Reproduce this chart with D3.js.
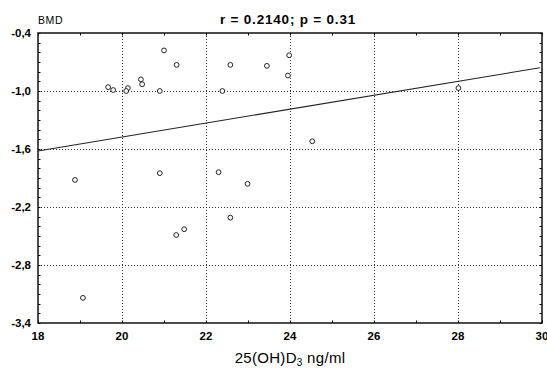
<!DOCTYPE html>
<html>
<head>
<meta charset="utf-8">
<script src="https://cdn.jsdelivr.net/npm/d3@7"></script>
<style>
  body { margin: 0; background: #fff; }
  text { font-family: "Liberation Sans", Arial, sans-serif; fill: #000; }
</style>
</head>
<body>
<svg width="547" height="368"></svg>
<script>
// 25(OH)D3 values and BMD
const vitD = [21.0, 21.3, 20.45, 20.48, 19.67, 19.79, 20.14, 20.1, 20.9, 22.39,
              22.58, 23.45, 23.98, 23.95, 28.01, 24.53, 18.88, 20.9, 22.3, 22.99,
              22.58, 21.48, 21.29, 19.07];
const bmd = [-0.58, -0.73, -0.88, -0.93, -0.96, -0.99, -0.97, -1.0, -1.0, -1.0,
             -0.73, -0.74, -0.63, -0.84, -0.97, -1.52, -1.92, -1.85, -1.84, -1.96,
             -2.31, -2.43, -2.49, -3.14];

// fitted line, as seen on the chart
const fitIntercept = -2.916;   // BMD at x = 0
const fitSlope = 0.072;

const xTicks = [18, 20, 22, 24, 26, 28, 30];
const yTicks = [-0.4, -1.0, -1.6, -2.2, -2.8, -3.4];

const title = "r = 0.2140; p = 0.31";

const svg = d3.select('svg');
const pLeft = 38, pRight = 542, pTop = 33, pBottom = 323;

const xScale = d3.scaleLinear().domain([18, 30]).range([pLeft, pRight]);
const yScale = d3.scaleLinear().domain([-3.4, -0.4]).range([pBottom, pTop]);

const fmtY = d => d3.format('.1f')(d).replace('.', ',').replace('−', '-');

// grid
const grid = svg.append('g')
  .attr('stroke', '#333')
  .attr('stroke-width', 1)
  .attr('stroke-dasharray', '1,2');

grid.selectAll('.gx')
  .data(xTicks.slice(1, -1))
  .enter().append('line')
    .attr('x1', d => Math.round(xScale(d)) + 0.5)
    .attr('x2', d => Math.round(xScale(d)) + 0.5)
    .attr('y1', pTop)
    .attr('y2', pBottom);

grid.selectAll('.gy')
  .data(yTicks.slice(1, -1))
  .enter().append('line')
    .attr('y1', d => Math.round(yScale(d)) + 0.5)
    .attr('y2', d => Math.round(yScale(d)) + 0.5)
    .attr('x1', pLeft)
    .attr('x2', pRight);

// minor ticks, inside on all four sides
const minorX = d3.range(18, 30.01, 1);
const minorY = d3.range(-3.4, -0.39, 0.1);
const ticks = svg.append('g').attr('stroke', '#000').attr('stroke-width', 1);

minorX.forEach(v => {
  const x = Math.round(xScale(v)) + 0.5;
  ticks.append('line').attr('x1', x).attr('x2', x).attr('y1', pBottom).attr('y2', pBottom - 2.5);
  ticks.append('line').attr('x1', x).attr('x2', x).attr('y1', pTop).attr('y2', pTop + 2.5);
});
minorY.forEach(v => {
  const y = Math.round(yScale(v)) + 0.5;
  ticks.append('line').attr('y1', y).attr('y2', y).attr('x1', pLeft).attr('x2', pLeft + 2.5);
  ticks.append('line').attr('y1', y).attr('y2', y).attr('x1', pRight).attr('x2', pRight - 2.5);
});

// frame
svg.append('rect')
  .attr('x', pLeft)
  .attr('y', pTop)
  .attr('width', pRight - pLeft)
  .attr('height', pBottom - pTop)
  .attr('fill', 'none')
  .attr('stroke', '#111')
  .attr('stroke-width', 1.5);

// regression line
svg.append('line')
  .attr('x1', xScale(18))
  .attr('y1', yScale(fitIntercept + fitSlope * 18))
  .attr('x2', xScale(29.95))
  .attr('y2', yScale(fitIntercept + fitSlope * 29.95))
  .attr('stroke', '#222')
  .attr('stroke-width', 1.1);

// points
svg.selectAll('circle')
  .data(vitD.map((v, i) => ({ x: v, y: bmd[i] })))
  .enter().append('circle')
    .attr('cx', d => xScale(d.x))
    .attr('cy', d => yScale(d.y))
    .attr('r', 2.4)
    .attr('fill', '#fff')
    .attr('stroke', '#222')
    .attr('stroke-width', 1);

// tick labels
svg.selectAll('.xLabel')
  .data(xTicks)
  .enter().append('text')
    .attr('x', d => xScale(d))
    .attr('y', 340)
    .attr('text-anchor', 'middle')
    .style('font-size', '11.5px')
    .style('font-weight', 'bold')
    .text(d => d);

svg.selectAll('.yLabel')
  .data(yTicks)
  .enter().append('text')
    .attr('x', 31)
    .attr('y', d => yScale(d) + 4)
    .attr('text-anchor', 'end')
    .style('font-size', '11.5px')
    .style('font-weight', 'bold')
    .text(fmtY);

// titles
svg.append('text')
  .attr('x', 288)
  .attr('y', 24)
  .attr('text-anchor', 'middle')
  .style('font-size', '13.5px')
  .style('font-weight', 'bold')
  .style('letter-spacing', '0.8px')
  .text(title);

svg.append('text')
  .attr('x', 38)
  .attr('y', 24)
  .style('font-size', '10.5px')
  .style('letter-spacing', '0.6px')
  .text('BMD');

const xTitle = svg.append('text')
  .attr('x', 290)
  .attr('y', 363)
  .attr('text-anchor', 'middle')
  .style('font-size', '15px')
  .style('letter-spacing', '0.3px');
xTitle.append('tspan').text('25(OH)D');
xTitle.append('tspan').attr('dy', 3).style('font-size', '10px').text('3');
xTitle.append('tspan').attr('dy', -3).text(' ng/ml');
</script>
</body>
</html>
